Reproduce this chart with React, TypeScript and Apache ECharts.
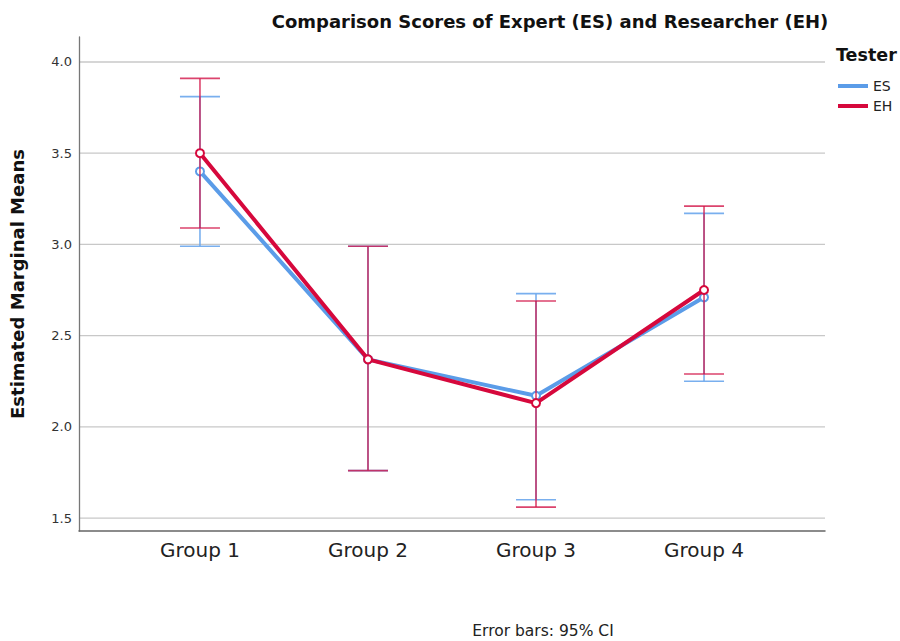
import React, { useEffect, useRef } from "react";
import * as echarts from "echarts";

const categories = ["Group 1", "Group 2", "Group 3", "Group 4"];
const esMean = [3.4, 2.37, 2.17, 2.71];
const esLower = [2.99, 1.76, 1.6, 2.25];
const esUpper = [3.81, 2.99, 2.73, 3.17];
const ehMean = [3.5, 2.37, 2.13, 2.75];
const ehLower = [3.09, 1.76, 1.56, 2.29];
const ehUpper = [3.91, 2.99, 2.69, 3.21];
const yTicks = [1.5, 2.0, 2.5, 3.0, 3.5, 4.0];

const FONT = "'DejaVu Sans', 'Noto Sans', sans-serif";
const ES_COLOR = "#5b9ce8";
const EH_COLOR = "#d6083c";

function errorBarRenderer(color: string, opacity: number) {
  return (params: any, api: any) => {
    const x = api.value(0);
    const lo = api.coord([x, api.value(1)]);
    const hi = api.coord([x, api.value(2)]);
    const half = 20;
    const style = { stroke: color, lineWidth: 1.6, opacity };
    return {
      type: "group",
      children: [
        { type: "line", shape: { x1: lo[0], y1: lo[1], x2: hi[0], y2: hi[1] }, style },
        { type: "line", shape: { x1: hi[0] - half, y1: hi[1], x2: hi[0] + half, y2: hi[1] }, style },
        { type: "line", shape: { x1: lo[0] - half, y1: lo[1], x2: lo[0] + half, y2: lo[1] }, style },
      ],
    };
  };
}

export default function App() {
  const ref = useRef<HTMLDivElement>(null);

  useEffect(() => {
    if (!ref.current) return;
    const chart = echarts.init(ref.current, undefined, { renderer: "svg" });
    const idx = categories.map((_, i) => i);

    chart.setOption({
      animation: false,
      backgroundColor: "#ffffff",
      title: [
        {
          text: "Comparison Scores of Expert (ES) and Researcher (EH)",
          left: 550,
          top: 12,
          padding: 0,
          textAlign: "center",
          textStyle: { fontFamily: FONT, fontSize: 18, fontWeight: "bold", color: "#111" },
        },
        {
          text: "Tester",
          left: 836,
          top: 46,
          padding: 0,
          textStyle: { fontFamily: FONT, fontSize: 17.5, fontWeight: "bold", color: "#111" },
        },
        {
          text: "Error bars: 95% CI",
          left: 543,
          top: 623,
          padding: 0,
          textAlign: "center",
          textStyle: { fontFamily: FONT, fontSize: 15.5, fontWeight: "normal", color: "#222" },
        },
      ],
      legend: {
        data: ["ES", "EH"],
        orient: "vertical",
        left: 838,
        top: 79,
        padding: 0,
        icon: "rect",
        itemWidth: 30,
        itemHeight: 4,
        itemGap: 6,
        textStyle: { fontFamily: FONT, fontSize: 14, color: "#222" },
      },
      grid: { left: 79, right: 75, top: 37, bottom: 110 },
      xAxis: {
        type: "value",
        min: -0.72,
        max: 3.72,
        splitLine: { show: false },
        axisTick: { show: false },
        axisLine: { show: true, onZero: false, lineStyle: { color: "#666", width: 1.5 } },
        axisLabel: {
          customValues: idx,
          formatter: (v: number) => categories[Math.round(v)] ?? "",
          fontFamily: FONT,
          fontSize: 20,
          color: "#222",
          margin: 9,
        },
      },
      yAxis: {
        type: "value",
        min: 1.429,
        max: 4.137,
        name: "Estimated Marginal Means",
        nameLocation: "middle",
        nameRotate: 90,
        nameGap: 53,
        nameTextStyle: { fontFamily: FONT, fontSize: 18, fontWeight: "bold", color: "#111" },
        splitLine: { show: false },
        axisTick: { show: false },
        axisLine: { show: true, onZero: false, lineStyle: { color: "#777", width: 1.3 } },
        axisLabel: {
          customValues: yTicks,
          formatter: (v: number) => v.toFixed(1),
          fontFamily: FONT,
          fontSize: 13,
          color: "#333",
          margin: 7,
        },
      },
      series: [
        {
          name: "grid",
          type: "custom",
          z: 0,
          silent: true,
          data: yTicks.map((v) => [0, v]),
          renderItem: (params: any, api: any) => {
            const cs = params.coordSys;
            const y = api.coord([0, api.value(1)])[1];
            return {
              type: "line",
              shape: { x1: cs.x, y1: y, x2: cs.x + cs.width, y2: y },
              style: { stroke: "#c8c8c8", lineWidth: 1.3 },
            };
          },
        },
        {
          name: "ES CI",
          type: "custom",
          z: 2,
          silent: true,
          data: idx.map((i) => [i, esLower[i], esUpper[i]]),
          renderItem: errorBarRenderer("#6aa6ec", 0.9),
        },
        {
          name: "ES",
          type: "line",
          z: 3,
          data: idx.map((i) => [i, esMean[i]]),
          symbol: "emptyCircle",
          symbolSize: 8,
          lineStyle: { color: ES_COLOR, width: 4 },
          itemStyle: { color: ES_COLOR, borderWidth: 1.1 },
        },
        {
          name: "EH CI",
          type: "custom",
          z: 4,
          silent: true,
          data: idx.map((i) => [i, ehLower[i], ehUpper[i]]),
          renderItem: errorBarRenderer("#d21548", 0.8),
        },
        {
          name: "EH",
          type: "line",
          z: 5,
          data: idx.map((i) => [i, ehMean[i]]),
          symbol: "emptyCircle",
          symbolSize: 8,
          lineStyle: { color: EH_COLOR, width: 4 },
          itemStyle: { color: EH_COLOR, borderWidth: 1.1 },
        },
      ],
    });

    return () => chart.dispose();
  }, []);

  return (
    <div
      ref={ref}
      style={{ position: "absolute", left: 0, top: 0, width: 900, height: 641 }}
    />
  );
}
